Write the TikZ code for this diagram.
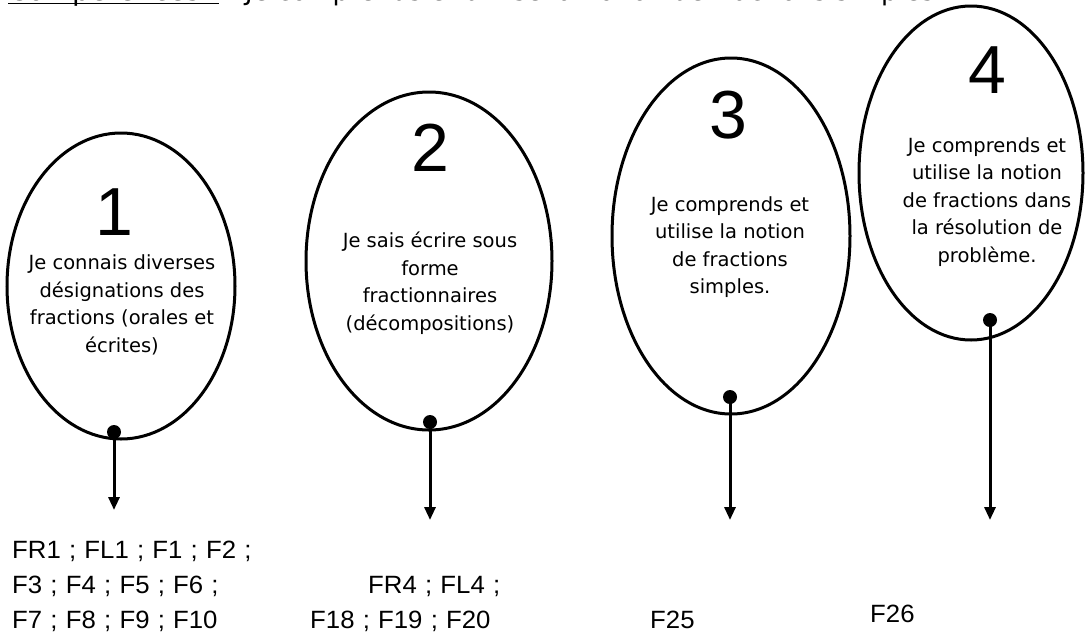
\documentclass[tikz,border=0pt]{standalone}
\usepackage{fontspec}
\setmainfont{DejaVu Sans}
\newfontfamily\bottomfont[WordSpace=1.15,FakeStretch=1.03]{Liberation Sans}
\newfontfamily\digitfont{Liberation Sans}
\usetikzlibrary{shapes.geometric,arrows.meta}
\begin{document}
\begin{tikzpicture}[x=1pt,y=-1pt,
  ell/.style={draw, ellipse, line width=3pt, inner sep=0pt},
  dotn/.style={circle, fill, inner sep=0pt, minimum size=14pt},
  lbl/.style={align=center, inner sep=0pt, font=\fontsize{19.5}{27.5}\selectfont},
  num/.style={inner sep=0pt, font=\digitfont\fontsize{68}{68}\selectfont},
  codes/.style={inner sep=0pt, anchor=base west, font=\bottomfont\fontsize{25}{35}\selectfont},
  arr/.style={line width=3pt, -{Triangle[width=11pt,length=13pt]}},
  ttl/.style={inner sep=0pt, anchor=base west}
]
\useasboundingbox (0,0) rectangle (1085,633);
\begin{scope}
\clip (0,0) rectangle (1085,633);

% title (cut off at the top)
\node[ttl, font=\fontsize{28}{28}\selectfont] (tl) at (8,0.5) {Compétences :};
\node[ttl, font=\fontsize{26}{26}\selectfont] (tr) at (245,0.5) {Je comprends et utilise la notion de fractions simples.};
\draw[line width=1.5pt] ([yshift=-3pt]tl.base west) -- ([yshift=-3pt]tl.base east);

% ellipses
\node[ell, minimum width=228pt, minimum height=306pt] (e1) at (121,286) {};
\node[ell, minimum width=246pt, minimum height=338pt] (e2) at (429,261) {};
\node[ell, minimum width=238pt, minimum height=356pt] (e3) at (731,236) {};
\node[ell, minimum width=224pt, minimum height=334pt] (e4) at (971,173) {};

% numbers
\node[num] (n1) at (114,212) {1};
\node[num] (n2) at (430,148) {2};
\node[num] (n3) at (728,115) {3};
\node[num] (n4) at (987,70) {4};

% texts
\node[lbl] (l1) at (122,305) {Je connais diverses\\désignations des\\fractions (orales et\\écrites)};
\node[lbl] (l2) at (430,283) {Je sais écrire sous\\forme\\fractionnaires\\(décompositions)};
\node[lbl] (l3) at (730,247) {Je comprends et\\utilise la notion\\de fractions\\simples.};
\node[lbl] (l4) at (987,202) {Je comprends et\\utilise la notion\\de fractions dans\\la résolution de\\problème.};

% dots and arrows
\node[dotn] (d1) at (114,432) {};
\node[dotn] (d2) at (430,422) {};
\node[dotn] (d3) at (730,397) {};
\node[dotn] (d4) at (990,320) {};
\coordinate (t1) at (114,510);
\coordinate (t2) at (430,520);
\coordinate (t3) at (730,520);
\coordinate (t4) at (990,520);
\draw[arr] (d1.center) -- (t1);
\draw[arr] (d2.center) -- (t2);
\draw[arr] (d3.center) -- (t3);
\draw[arr] (d4.center) -- (t4);

% codes
\node[codes] (c1a) at (12,558) {FR1 ; FL1 ; F1 ; F2 ;};
\node[codes] (c1b) at (12,593) {F3 ; F4 ; F5 ; F6 ;};
\node[codes] (c1c) at (12,628) {F7 ; F8 ; F9 ; F10};
\node[codes] (c2a) at (368,593) {FR4 ; FL4 ;};
\node[codes] (c2b) at (310,628) {F18 ; F19 ; F20};
\node[codes] (c3) at (650,628) {F25};
\node[codes] (c4) at (870,622) {F26};
\end{scope}
\end{tikzpicture}
\end{document}
